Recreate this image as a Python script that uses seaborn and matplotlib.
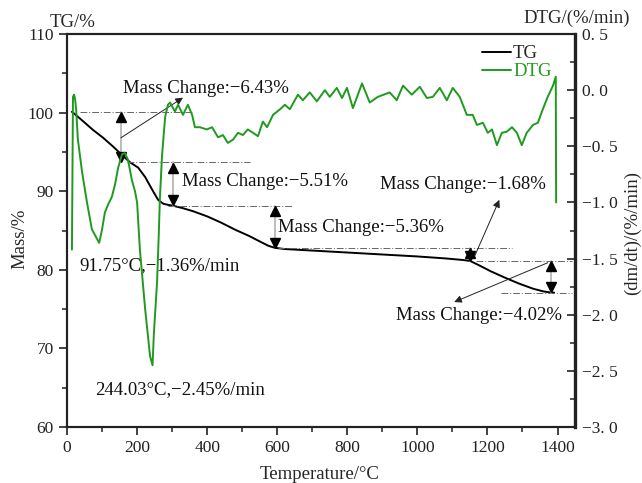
import matplotlib
matplotlib.use("Agg")
import matplotlib.pyplot as plt
import matplotlib.transforms as mtransforms
from matplotlib.lines import Line2D
from matplotlib.ticker import MultipleLocator, FuncFormatter
import numpy as np
import pandas as pd
import seaborn as sns

# ---------------------------------------------------------------- data
# TG curve: temperature (°C) and residual mass (%)
tg_temp = [14, 17, 46, 74, 103, 131, 157, 180, 203, 223, 243, 260, 275, 290,
           302, 330, 360, 400, 440, 480, 520, 555, 575, 593, 620, 700, 800,
           900, 1000, 1080, 1130, 1151, 1175, 1210, 1250, 1290, 1330, 1360,
           1382, 1390]
tg_mass = [100.1, 100.0, 98.9, 97.8, 96.8, 95.7, 94.6, 93.67, 93.0, 91.8,
           90.2, 88.9, 88.4, 88.25, 88.16, 87.85, 87.45, 86.8, 86.0, 85.1,
           84.3, 83.5, 83.05, 82.80, 82.65, 82.45, 82.2, 81.95, 81.7, 81.45,
           81.25, 81.12, 80.6, 79.8, 79.0, 78.25, 77.6, 77.25, 77.10, 77.1]

# DTG curve: temperature (°C) and mass-loss rate (%/min)
dtg_temp = [14, 17, 20, 23, 26, 31, 43, 57, 71, 91.75, 100, 108, 117, 128,
            137, 146, 157, 165, 174, 185, 194, 200, 208, 223, 237, 244.03,
            248, 257, 262, 265, 271, 280, 288, 294, 308, 317, 331, 345, 357,
            365, 379, 399, 414, 431, 445, 459, 474, 488, 502, 516, 531, 545,
            559, 571, 588, 608, 622, 636, 659, 673, 693, 713, 736, 750, 770,
            785, 799, 816, 842, 864, 887, 921, 941, 959, 984, 1007, 1027,
            1044, 1064, 1084, 1101, 1121, 1141, 1158, 1170, 1187, 1201, 1213,
            1227, 1241, 1255, 1270, 1284, 1298, 1312, 1330, 1344, 1358, 1372,
            1387, 1395, 1396]
dtg_rate = [-1.42, -0.06, -0.04, -0.08, -0.17, -0.44, -0.73, -1.00, -1.24,
            -1.36, -1.24, -1.09, -1.02, -0.95, -0.84, -0.69, -0.57, -0.56,
            -0.62, -0.80, -0.90, -1.00, -1.42, -1.95, -2.37, -2.45, -2.16,
            -1.71, -1.27, -0.97, -0.59, -0.24, -0.13, -0.11, -0.19, -0.13,
            -0.22, -0.13, -0.22, -0.33, -0.33, -0.35, -0.33, -0.42, -0.40,
            -0.47, -0.44, -0.38, -0.40, -0.35, -0.38, -0.41, -0.28, -0.33,
            -0.22, -0.17, -0.13, -0.17, -0.04, -0.09, -0.02, -0.10, 0.00,
            -0.06, 0.02, -0.07, 0.02, -0.16, 0.06, -0.11, -0.06, -0.02, -0.09,
            0.04, -0.04, 0.03, -0.07, -0.06, 0.02, -0.09, 0.02, -0.06, -0.22,
            -0.22, -0.31, -0.29, -0.38, -0.35, -0.49, -0.38, -0.37, -0.33,
            -0.38, -0.49, -0.38, -0.31, -0.29, -0.17, -0.06, 0.04, 0.12, -1.00]

# weight-loss stages
initial_mass = 100.1
stage_losses = [6.43, 5.51, 5.36, 1.68, 4.02]

# DTG peaks
peak_temps = [91.75, 244.03]
peak_rates = [-1.36, -2.45]

# ---------------------------------------------------------------- layout
levels = [initial_mass]
for loss in stage_losses:
    levels.append(round(levels[-1] - loss, 2))

# horizontal extent of each step line
level_spans = [(37, 359), (171, 521), (288, 644), (601, 1271), (1168, 1440),
               (1239, 1440)]
# x position of each double-headed arrow
arrow_x = [154, 302, 593, 1151, 1382]
# label anchors (x, y, ha)
stage_label_pos = [(160, 103.1, "left"), (328, 91.2, "left"),
                   (601, 85.4, "left"), (892, 90.9, "left"),
                   (1413, 74.25, "right")]
# pointer arrows: stage index -> (start, end)
pointers = {0: ((154, 96.8), (331, 101.9)),
            3: ((1162, 81.6), (1234, 88.9)),
            4: ((1372, 80.9), (1105, 75.9))}
peak_label_pos = [(34, 80.5), (80, 64.7)]

GREEN = "#1f9a1f"
FS = 13.5
TICK_FS = 12.5

sns.set_style("ticks")
plt.rcParams["font.family"] = ["Liberation Serif", "DejaVu Serif"]
plt.rcParams["mathtext.fontset"] = "stix"

fig = plt.figure(figsize=(6.42, 4.83), dpi=100)
ax = fig.add_axes([0.1044, 0.1159, 0.7913, 0.8137])
ax2 = ax.twinx()

tg_df = pd.DataFrame({"Temperature": tg_temp, "TG": tg_mass})
dtg_df = pd.DataFrame({"Temperature": dtg_temp, "DTG": dtg_rate})

sns.lineplot(data=tg_df, x="Temperature", y="TG", ax=ax, color="black",
             lw=1.4, sort=False, estimator=None)
sns.lineplot(data=dtg_df, x="Temperature", y="DTG", ax=ax2, color=GREEN,
             lw=1.4, sort=False, estimator=None)

ax.set_xlim(0, 1450)
ax.set_ylim(60, 110)
ax2.set_ylim(-3.0, 0.5)

# step reference lines
for lvl, (x0, x1) in zip(levels, level_spans):
    ax.plot([x0, x1], [lvl, lvl], color="#666666", lw=0.7,
            ls=(0, (7, 2, 1, 2)), zorder=2)

# double-headed arrows between consecutive levels
ms = 7.5
up_tr = mtransforms.offset_copy(ax.transData, fig=fig, y=-ms / 2, units="points")
dn_tr = mtransforms.offset_copy(ax.transData, fig=fig, y=ms / 2, units="points")
for i, x in enumerate(arrow_x):
    top, bottom = levels[i], levels[i + 1]
    ax.plot([x, x], [top, bottom], color="#b0b0b0", lw=1.2, zorder=3)
    ax.plot([x], [top], marker="^", ms=ms, color="black", transform=up_tr,
            zorder=4, clip_on=False)
    ax.plot([x], [bottom], marker="v", ms=ms, color="black", transform=dn_tr,
            zorder=4, clip_on=False)

# stage labels
for i, (loss, (lx, ly, ha)) in enumerate(zip(stage_losses, stage_label_pos)):
    ax.text(lx, ly, f"Mass Change:\u2212{loss:.2f}%", fontsize=FS, ha=ha,
            va="center", color="#111111", zorder=5)
for i, (start, end) in pointers.items():
    ax.annotate("", xy=end, xytext=start,
                arrowprops=dict(arrowstyle="-|>", color="#222222", lw=0.7,
                                mutation_scale=11, shrinkA=0, shrinkB=0))

# DTG peak labels
for t, r, (px, py) in zip(peak_temps, peak_rates, peak_label_pos):
    ax.text(px, py, f"{t:.2f}°C,\u2212{abs(r):.2f}%/min", fontsize=FS,
            ha="left", va="center", color="#111111")

# axes styling
ax.xaxis.set_major_locator(MultipleLocator(200))
ax.xaxis.set_minor_locator(MultipleLocator(100))
ax.yaxis.set_major_locator(MultipleLocator(10))
ax.yaxis.set_minor_locator(MultipleLocator(5))
ax2.yaxis.set_major_locator(MultipleLocator(0.5))
ax2.yaxis.set_minor_locator(MultipleLocator(0.25))
ax2.yaxis.set_major_formatter(FuncFormatter(
    lambda v, _: f"{v:.1f}".replace(".", ". ").replace("-", "\u2212")))

ax.tick_params(axis="both", which="major", direction="out", length=6,
               width=1.2, labelsize=TICK_FS, colors="#222222")
ax.tick_params(axis="both", which="minor", direction="out", length=3.5,
               width=1.1, colors="#222222")
ax2.tick_params(axis="y", which="major", direction="in", length=6, width=1.2,
                labelsize=TICK_FS, colors="#222222", pad=5)
ax2.tick_params(axis="y", which="minor", direction="in", length=3.5,
                width=1.1, colors="#222222")

for sp in ["left", "bottom", "top"]:
    ax.spines[sp].set_linewidth(1.5)
    ax2.spines[sp].set_linewidth(1.5)
ax2.spines["right"].set_linewidth(2.4)
for a in (ax, ax2):
    for sp in a.spines.values():
        sp.set_color("#222222")
        sp.set_visible(True)

ax.set_xlabel("Temperature/°C", fontsize=FS)
ax.xaxis.set_label_coords(0.498, -0.1)
ax.set_ylabel("Mass/%", fontsize=FS, ha="center", va="center")
ax.yaxis.set_label_coords(-0.093, 0.48)
ax2.set_ylabel("(dm/dt)/(%/min)", fontsize=FS, ha="center", va="center")
ax2.yaxis.set_label_coords(1.114, 0.494)

ax.text(-0.035, 1.03, "TG/%", transform=ax.transAxes, fontsize=FS,
        ha="left", va="center")
ax.text(0.898, 1.04, "DTG/(%/min)", transform=ax.transAxes, fontsize=FS,
        ha="left", va="center")

handles = [Line2D([], [], color="black", lw=1.4),
           Line2D([], [], color=GREEN, lw=1.4)]
leg = ax2.legend(handles, ["TG", "DTG"], loc="upper left",
                 bbox_to_anchor=(0.817, 0.972), frameon=False, fontsize=FS,
                 borderpad=0, borderaxespad=0, handlelength=1.55,
                 handletextpad=0.1, labelspacing=0.05)
leg.get_texts()[1].set_color(GREEN)

fig.savefig("out.png", dpi=100)
